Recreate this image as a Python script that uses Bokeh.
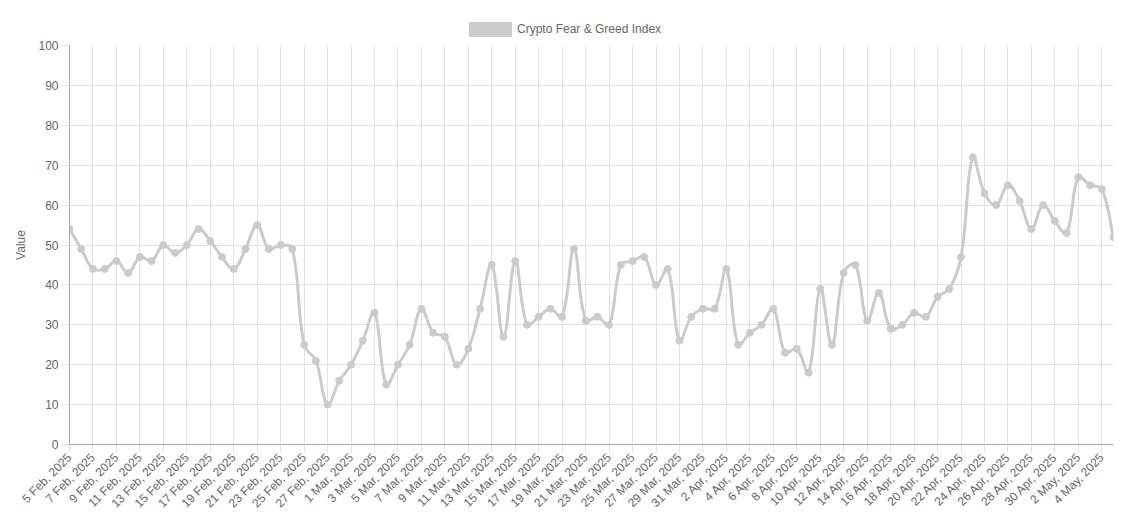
import math
import pandas as pd
from bokeh.plotting import figure
from bokeh.layouts import column
from bokeh.models import Range1d, FixedTicker, ColumnDataSource, Div
from bokeh.embed import file_html
from bokeh.resources import INLINE

# ---- data ----
start_date = "2025-02-05"
end_date = "2025-05-05"
dates = pd.date_range(start_date, end_date, freq="D")
date_labels = [f"{d.day} {d.strftime('%b')}, {d.year}" for d in dates]

values = [
    54, 49, 44, 44, 46, 43, 47, 46, 50, 48, 50, 54, 51, 47, 44, 49, 55, 49, 50, 49,
    25, 21, 10, 16,
    20, 26, 33, 15, 20, 25, 34, 28, 27, 20, 24, 34, 45, 27, 46, 30, 32, 34, 32, 49,
    31, 32, 30, 45, 46, 47, 40, 44, 26, 32, 34,
    34, 44, 25, 28, 30, 34, 23, 24, 18, 39, 25, 43, 45, 31, 38, 29, 30, 33, 32, 37,
    39, 47, 72, 63, 60, 65, 61, 54, 60, 56,
    53, 67, 65, 64, 52,
]
series_name = "Crypto Fear & Greed Index"
y_ticks = list(range(0, 101, 10))

# ---- layout ----
W = 1120
LEG_H = 37
H = 518 - LEG_H
LEFT, RIGHT, TOP, BOTTOM = 69, 7, 8, 74
GRAY = "#c9cbcf"
TXT = "#666666"
FONT = "Liberation Sans"

n = len(values)
xs = list(range(n))

p = figure(width=W, height=H, output_backend="svg", toolbar_location=None,
           x_range=Range1d(0, n - 1), y_range=Range1d(0, 100),
           min_border_left=LEFT, min_border_right=RIGHT,
           min_border_top=TOP, min_border_bottom=BOTTOM)
p.outline_line_color = None
p.background_fill_color = "white"
p.border_fill_color = "white"

# chart.js-like spline (tension 0.4) computed in pixel space
frame_w = W - LEFT - RIGHT
frame_h = H - TOP - BOTTOM
sx = frame_w / (n - 1)
sy = frame_h / 100.0
t = 0.4
px = [x * sx for x in xs]
py = [v * sy for v in values]
prev_c, next_c = [], []
for i in range(n):
    a = i - 1 if i > 0 else i
    b = i + 1 if i < n - 1 else i
    d01 = math.hypot(px[i] - px[a], py[i] - py[a])
    d12 = math.hypot(px[b] - px[i], py[b] - py[i])
    tot = d01 + d12
    s01 = d01 / tot if tot else 0
    s12 = d12 / tot if tot else 0
    fa, fb = t * s01, t * s12
    pcx = px[i] - fa * (px[b] - px[a]); pcy = py[i] - fa * (py[b] - py[a])
    ncx = px[i] + fb * (px[b] - px[a]); ncy = py[i] + fb * (py[b] - py[a])
    clamp = lambda v: min(max(v, 0), frame_h)
    prev_c.append((pcx / sx, clamp(pcy) / sy))
    next_c.append((ncx / sx, clamp(ncy) / sy))

seg = ColumnDataSource(dict(
    x0=xs[:-1], y0=values[:-1], x1=xs[1:], y1=values[1:],
    cx0=[c[0] for c in next_c[:-1]], cy0=[c[1] for c in next_c[:-1]],
    cx1=[c[0] for c in prev_c[1:]], cy1=[c[1] for c in prev_c[1:]],
))
p.bezier(x0="x0", y0="y0", x1="x1", y1="y1", cx0="cx0", cy0="cy0", cx1="cx1", cy1="cy1",
         source=seg, line_color=GRAY, line_width=3)
p.scatter(xs, values, size=7, fill_color=GRAY, line_color=GRAY)

# axes
xa = p.xaxis[0]
xa.ticker = FixedTicker(ticks=list(range(0, n, 2)))
xa.major_label_overrides = {i: date_labels[i] for i in range(0, n, 2)}
xa.major_label_orientation = math.pi / 4
ya = p.yaxis[0]
ya.ticker = FixedTicker(ticks=y_ticks)
ya.axis_label = "Value"
ya.axis_label_text_font_style = "normal"
ya.axis_label_text_font = FONT
ya.axis_label_text_font_size = "12px"
ya.axis_label_text_color = TXT
ya.axis_label_standoff = 7
for ax in (xa, ya):
    ax.axis_line_color = "#a8a8a8"
    ax.major_tick_line_color = "#e0e0e0"
    ax.major_tick_out = 8
    ax.major_tick_in = 0
    ax.minor_tick_line_color = None
    ax.major_label_text_font = FONT
    ax.major_label_text_font_size = "12px"
    ax.major_label_text_color = TXT
    ax.major_label_standoff = 3

p.xgrid.grid_line_color = "#e3e3e3"
p.ygrid.grid_line_color = "#e3e3e3"

# legend (Chart.js style: filled box + label, centred over the canvas)
legend_html = (
    f'<div style="position:relative;width:{W}px;height:{LEG_H}px;'
    f'font-family:\'{FONT}\';font-size:12px;color:{TXT};">'
    f'<span style="position:absolute;left:469px;top:22px;width:43px;height:15px;'
    f'background:{GRAY};"></span>'
    f'<span style="position:absolute;left:517px;top:22px;line-height:15px;white-space:nowrap;">'
    f'{series_name.replace("&", "&amp;")}</span></div>'
)
leg = Div(text=legend_html, width=W, height=LEG_H, margin=0)

layout = column(leg, p, spacing=0)
open("out.html", "w").write(file_html(layout, INLINE))
